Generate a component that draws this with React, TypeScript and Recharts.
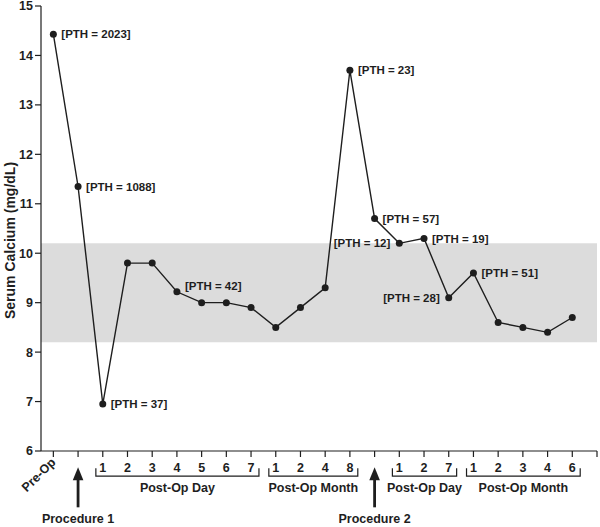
import {
  LabelList,
  Line,
  LineChart,
  ReferenceArea,
  ReferenceDot,
  XAxis,
  YAxis,
} from "recharts";

const categories = [
  "Pre-Op", "", "1", "2", "3", "4", "5", "6", "7",
  "1", "2", "4", "8", "", "1", "2", "7", "1", "2", "3", "4", "6",
];

const calcium = [
  14.43, 11.35, 6.95, 9.8, 9.8, 9.22, 9.0, 9.0, 8.9,
  8.5, 8.9, 9.3, 13.7, 10.7, 10.2, 10.3, 9.1, 9.6, 8.6, 8.5, 8.4, 8.7,
];

const pthLabels = [
  "[PTH = 2023]", "[PTH = 1088]", "[PTH = 37]", "", "", "[PTH = 42]", "", "", "",
  "", "", "", "[PTH = 23]", "[PTH = 57]", "[PTH = 12]", "[PTH = 19]", "[PTH = 28]",
  "[PTH = 51]", "", "", "", "",
];

// where each PTH note sits relative to its point
const pthSide = [
  "right", "right", "right", "", "", "upright", "", "", "",
  "", "", "", "right", "right", "left", "right", "left",
  "right", "", "", "", "",
];

const yTicks = [6, 7, 8, 9, 10, 11, 12, 13, 14, 15];
const xTicks = Array.from({ length: 23 }, (_, i) => i);
const normalRange = [8.2, 10.2];

const groups = [
  { label: "Post-Op Day", from: 2, to: 8 },
  { label: "Post-Op Month", from: 9, to: 12 },
  { label: "Post-Op Day", from: 14, to: 16 },
  { label: "Post-Op Month", from: 17, to: 21 },
];

const procedures = [
  { label: "Procedure 1", at: 1 },
  { label: "Procedure 2", at: 13 },
];

const FONT = "'Liberation Sans', Arial, Helvetica, sans-serif";
const INK = "#1e1e1e";

const data = calcium.map((value, i) => ({
  idx: i,
  calcium: value,
  pth: pthLabels[i],
  side: pthSide[i],
}));

function XTick(props: any) {
  const { x, y, payload } = props;
  const idx = payload.value;
  const text = categories[idx];
  if (!text) return null;
  if (idx === 0) {
    return (
      <text
        x={x + 3}
        y={y + 4}
        textAnchor="end"
        transform={`rotate(-45, ${x + 3}, ${y + 4})`}
        fontFamily={FONT}
        fontWeight="bold"
        fontSize={12.5}
        fill={INK}
      >
        {text}
      </text>
    );
  }
  return (
    <text
      x={x}
      y={y + 12.5}
      textAnchor="middle"
      fontFamily={FONT}
      fontWeight="bold"
      fontSize={12.5}
      fill={INK}
    >
      {text}
    </text>
  );
}

function PthLabel(props: any) {
  const { x, y, index } = props;
  const text = pthLabels[index];
  if (!text) return null;
  const side = pthSide[index];
  let tx = x + 8;
  let ty = y;
  let anchor: "start" | "end" = "start";
  if (side === "left") {
    tx = x - 9;
    anchor = "end";
  } else if (side === "upright") {
    ty = y - 6;
  }
  return (
    <text
      x={tx}
      y={ty}
      dy="0.36em"
      textAnchor={anchor}
      fontFamily={FONT}
      fontWeight="bold"
      fontSize={11.5}
      fill={INK}
    >
      {text}
    </text>
  );
}

function bracketShape(label: string) {
  return (props: any) => {
    const { x, y, width, height } = props;
    return (
      <g>
        <path
          d={`M${x},${y} L${x},${y + height} L${x + width},${y + height} L${x + width},${y}`}
          fill="none"
          stroke={INK}
          strokeWidth={1.2}
        />
        <text
          x={x + width / 2}
          y={y + height + 16}
          textAnchor="middle"
          fontFamily={FONT}
          fontWeight="bold"
          fontSize={12.5}
          fill={INK}
        >
          {label}
        </text>
      </g>
    );
  };
}

function arrowShape(label: string) {
  return (props: any) => {
    const { cx, cy } = props;
    return (
      <g>
        <path
          d={`M${cx},${cy} L${cx - 5.3},${cy + 13} L${cx + 5.3},${cy + 13} Z`}
          fill={INK}
        />
        <rect x={cx - 1.4} y={cy + 10} width={2.8} height={30} fill={INK} />
        <text
          x={cx}
          y={cy + 55.5}
          textAnchor="middle"
          fontFamily={FONT}
          fontWeight="bold"
          fontSize={12.5}
          fill={INK}
        >
          {label}
        </text>
      </g>
    );
  };
}

function YTitle(props: any) {
  const { viewBox } = props;
  const cx = 10;
  const cy = viewBox.y + viewBox.height / 2 + 12;
  return (
    <text
      x={cx}
      y={cy}
      dy="0.36em"
      textAnchor="middle"
      transform={`rotate(-90, ${cx}, ${cy})`}
      fontFamily={FONT}
      fontWeight="bold"
      fontSize={14}
      fill={INK}
    >
      Serum Calcium (mg/dL)
    </text>
  );
}

export default function App() {
  return (
    <div style={{ position: "absolute", left: 0, top: 0, background: "#fff" }}>
      <LineChart
        width={600}
        height={527}
        data={data}
        margin={{ top: 6, right: 3, bottom: 6, left: 0 }}
      >
        <XAxis
          dataKey="idx"
          type="number"
          domain={[-0.5, 22]}
          ticks={xTicks}
          interval={0}
          height={70}
          tickSize={6}
          tickMargin={2}
          tick={<XTick />}
          axisLine={{ stroke: INK, strokeWidth: 1.2 }}
          tickLine={{ stroke: INK, strokeWidth: 1.2 }}
          allowDataOverflow
        />
        <YAxis
          type="number"
          domain={[6, 15]}
          ticks={yTicks}
          interval={0}
          width={41}
          tickSize={6}
          tickMargin={2}
          tick={{ fontFamily: FONT, fontWeight: "bold", fontSize: 12.5, fill: INK }}
          axisLine={{ stroke: INK, strokeWidth: 1.2 }}
          tickLine={{ stroke: INK, strokeWidth: 1.2 }}
          label={<YTitle />}
          allowDataOverflow
        />
        <ReferenceArea
          x1={-0.5}
          x2={22}
          y1={normalRange[0]}
          y2={normalRange[1]}
          fill="#dcdcdc"
          fillOpacity={1}
          stroke="none"
        />
        {groups.map((g, i) => (
          <ReferenceArea
            key={`grp-${i}`}
            x1={g.from - 0.28}
            x2={g.to + 0.32}
            y1={5.49}
            y2={5.65}
            ifOverflow="visible"
            shape={bracketShape(g.label)}
          />
        ))}
        {procedures.map((p, i) => (
          <ReferenceDot
            key={`proc-${i}`}
            x={p.at}
            y={5.67}
            r={0}
            ifOverflow="visible"
            shape={arrowShape(p.label)}
          />
        ))}
        <Line
          type="linear"
          dataKey="calcium"
          stroke={INK}
          strokeWidth={1.4}
          dot={{ r: 3.5, fill: INK, stroke: INK, strokeWidth: 0 }}
          isAnimationActive={false}
        >
          <LabelList dataKey="pth" content={<PthLabel />} />
        </Line>
      </LineChart>
    </div>
  );
}
